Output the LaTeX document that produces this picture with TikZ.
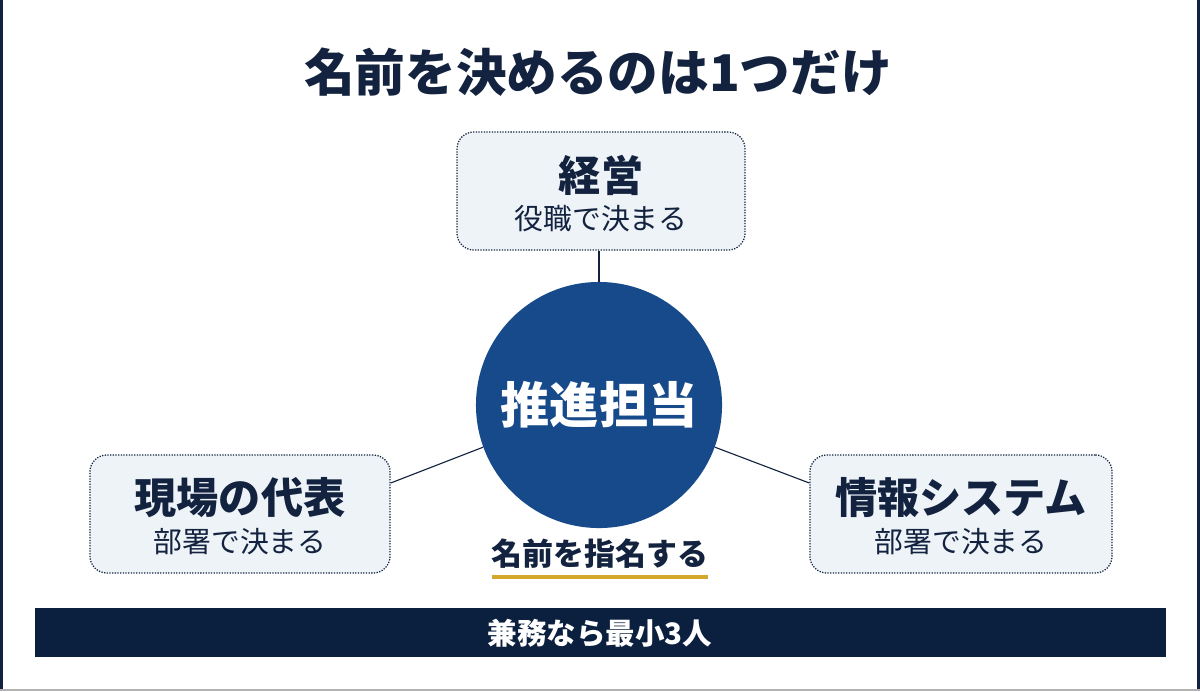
\documentclass[tikz,border=0pt]{standalone}
\usepackage{fontspec}
\setmainfont{Noto Sans CJK JP}
\newfontfamily\cjkbold{Noto Sans CJK JP}[BoldFont=* Bold]
\usetikzlibrary{positioning}
\definecolor{navy}{HTML}{13233F}
\definecolor{deepblue}{HTML}{174A8A}
\definecolor{barblue}{HTML}{0B1F3F}
\definecolor{boxfill}{HTML}{EEF3F8}
\definecolor{gold}{HTML}{D4A82C}
\tikzset{
    role/.style={draw=navy, densely dotted, line width=0.9pt, fill=boxfill, rounded corners=12pt,
        minimum width=7.2cm, minimum height=2.95cm},
    link/.style={navy, line width=0.8pt},
}
\begin{document}
\begin{tikzpicture}[x=0.025cm, y=-0.025cm]

    % Canvas
    \def\W{1200}
    \def\H{691}
    \useasboundingbox (0,0) rectangle (\W,\H);
    \fill[white] (0,0) rectangle (\W,\H);
    \fill[navy] (0,0) rectangle (3,\H);
    \fill[navy] (\W-3,0) rectangle (\W,\H);
    \fill[gray!60] (0,\H-2) rectangle (\W,\H);

    % Title
    \node[navy, font=\bfseries\fontsize{36}{40}\selectfont] (title) at (598,72) {名前を決めるのは1つだけ};

    % Center
    \node[circle, fill=deepblue, minimum size=6.15cm, inner sep=0pt,
        text=white, font=\bfseries\fontsize{35}{40}\selectfont] (hub) at (599,405) {推進担当};

    % Roles
    \node[role] (mgmt) at (601,191) {};
    \node[role, minimum width=7.5cm] (site) at (240,514) {};
    \node[role, minimum width=7.55cm] (info) at (961,514) {};
    \foreach \n/\a/\b in {mgmt/経営/役職で決まる, site/現場の代表/部署で決まる, info/情報システム/部署で決まる}{
        \node[navy, font=\bfseries\fontsize{30}{34}\selectfont] at ([yshift=0.4cm]\n.center) {\a};
        \node[navy, font=\fontsize{20.5}{24}\selectfont] at ([yshift=-0.7cm]\n.center) {\b};
    }

    % Links
    \draw[link] (hub.north) -- (hub.north |- mgmt.south);
    \draw[link] (site.east |- 0,483) -- (hub.200);
    \draw[link] (info.west |- 0,483) -- (hub.-20);

    % Label under the circle
    \node[navy, font=\bfseries\fontsize{22}{26}\selectfont] (pick) at (600,554) {名前を指名する};
    \draw[gold, line width=3pt] (492,577) -- (708,577);

    % Bottom bar
    \fill[barblue] (35,608) rectangle (1166,657);
    \node[white, font=\bfseries\fontsize{21}{25}\selectfont] (note) at (600,633) {兼務なら最小3人};

\end{tikzpicture}
\end{document}
